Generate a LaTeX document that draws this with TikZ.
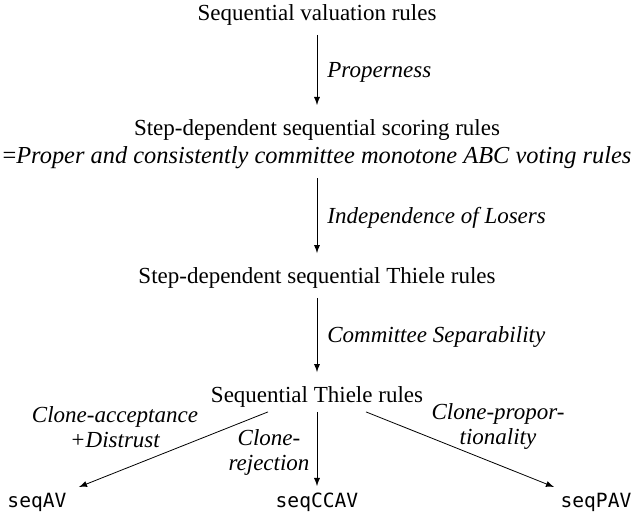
\documentclass[tikz,border=0pt]{standalone}
\usepackage{fontspec}
\setmainfont{Liberation Serif}
\setmonofont{DejaVu Sans Mono}
\usetikzlibrary{positioning}

\tikzset{
  cls/.style={inner sep=0pt, font=\fontsize{11.5}{14}\selectfont, text height=8pt, text depth=2.5pt},
  rulename/.style={inner sep=0pt, font=\fontsize{9.8}{12}\ttfamily, text height=7pt, text depth=2pt},
  prop/.style={inner sep=0pt, align=center, font=\fontsize{11.5}{12.5}\selectfont\itshape},
  impl/.style={->, shorten <=4.5pt, shorten >=7pt},
}

\begin{document}
\begin{tikzpicture}[>=latex, x=0.5pt, y=-0.5pt]
  \useasboundingbox (0,0) rectangle (634,519);
  % Nodes
  \node[cls] (valuation) at (317,15) {Sequential valuation rules};
  \node[below of=valuation, node distance=64.5pt, inner sep=0pt, align=center,
        font=\fontsize{11.5}{14}\selectfont] (scoring)
       {Step-dependent sequential scoring rules\\
        {\fontsize{12.2}{14}\selectfont=\textit{Proper and consistently committee monotone ABC voting rules}}};
  \node[cls, below of=scoring, node distance=67pt] (stepthiele) {Step-dependent sequential Thiele rules};
  \node[cls, below of=stepthiele, node distance=59.5pt] (seqthiele) {Sequential Thiele rules};
  \node[rulename, below of=seqthiele, node distance=53pt] (seqccav) {seqCCAV};
  \node[rulename, left of=seqccav, node distance=140pt] (seqav) {seqAV};
  \node[rulename, right of=seqccav, node distance=139.5pt] (seqpav) {seqPAV};

  % Arrows
  \draw[impl] (valuation) -- (scoring) node[prop, midway, right=5pt] {Properness};
  \draw[impl] (scoring) -- (stepthiele) node[prop, midway, right=5pt] {Independence of Losers};
  \draw[impl] (stepthiele) -- (seqthiele) node[prop, midway, right=5pt] {Committee Separability};
  \draw[->] ([xshift=-24.5pt, yshift=-2pt]seqthiele.south) -- ([xshift=21pt, yshift=8pt]seqav.center);
  \draw[->] ([yshift=-2pt]seqthiele.south) -- ([yshift=8.5pt]seqccav.center);
  \draw[->] ([xshift=24.5pt, yshift=-2pt]seqthiele.south) -- ([xshift=-21pt, yshift=8pt]seqpav.center);

  % Labels of the last step
  \node[prop] (accept) at (115,427) {Clone-acceptance\\+Distrust};
  \node[prop] (reject) at (269,452) {Clone-\\rejection};
  \node[prop] (propor) at (498,427) {Clone-propor-\\tionality};
\end{tikzpicture}
\end{document}
